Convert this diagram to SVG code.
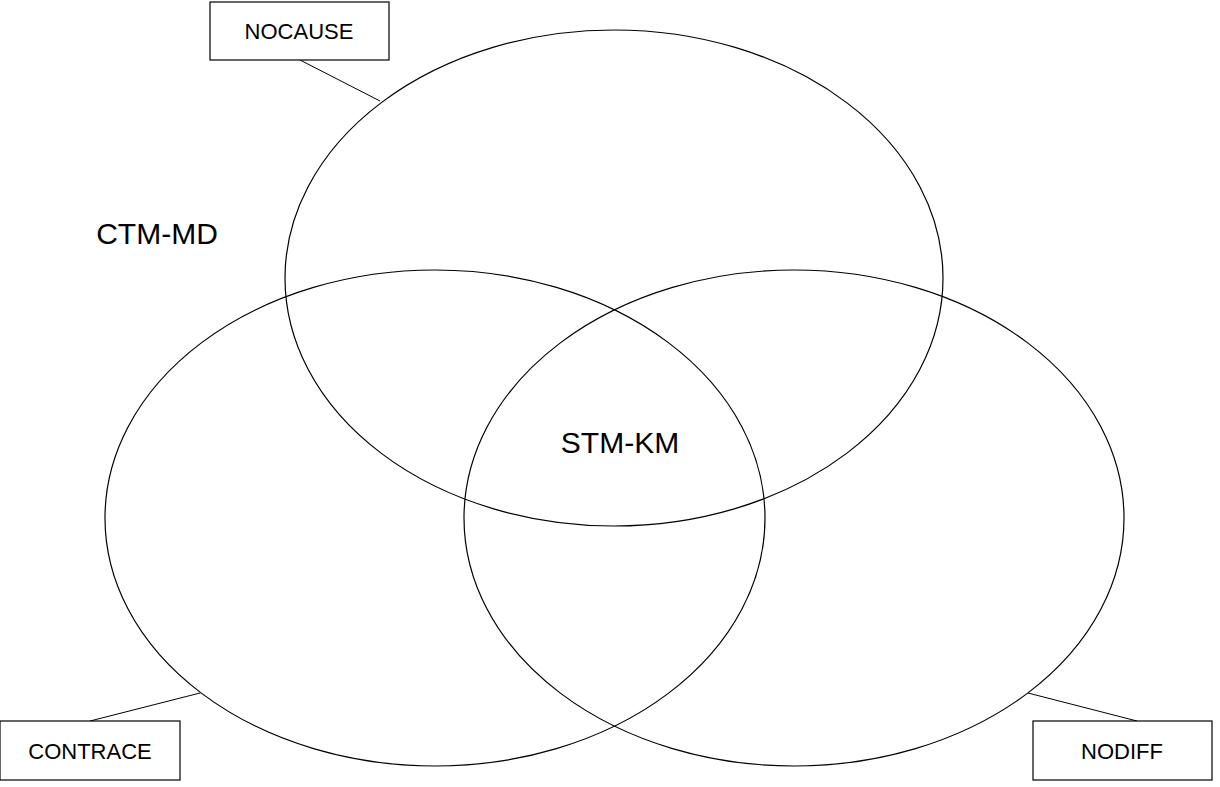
<svg xmlns="http://www.w3.org/2000/svg" width="1220" height="787" viewBox="0 0 1220 787">
<style>
.e{fill:none;stroke:#000;stroke-width:1.2}
.b{fill:#fff;stroke:#000;stroke-width:1.2}
.t{font-family:"Liberation Sans",Arial,sans-serif;fill:#000;text-anchor:middle;dominant-baseline:central}
</style>
<rect width="1220" height="787" fill="#fff"/>
<g id="connectors">
<line x1="300" y1="60" x2="380" y2="101" stroke="#000"/>
<line x1="90" y1="721" x2="200" y2="693" stroke="#000"/>
<line x1="1137" y1="721" x2="1028" y2="693" stroke="#000"/>
</g>
<g id="top"><ellipse class="e" cx="614" cy="278" rx="329" ry="248"/></g>
<g id="left"><ellipse class="e" cx="435" cy="518" rx="330" ry="248"/></g>
<g id="right"><ellipse class="e" cx="794" cy="518" rx="330" ry="248"/></g>
<g id="ctm"><text class="t" x="157" y="233" font-size="30">CTM-MD</text></g>
<g id="stm"><text class="t" x="620" y="442" font-size="30">STM-KM</text></g>
<g id="nocause"><rect class="b" x="210" y="2" width="179" height="58"/><text class="t" x="299" y="31" font-size="22">NOCAUSE</text></g>
<g id="contrace"><rect class="b" x="0" y="721" width="180" height="59"/><text class="t" x="90" y="751" font-size="22">CONTRACE</text></g>
<g id="nodiff"><rect class="b" x="1033" y="721" width="179" height="59"/><text class="t" x="1122" y="751" font-size="22">NODIFF</text></g>
</svg>
